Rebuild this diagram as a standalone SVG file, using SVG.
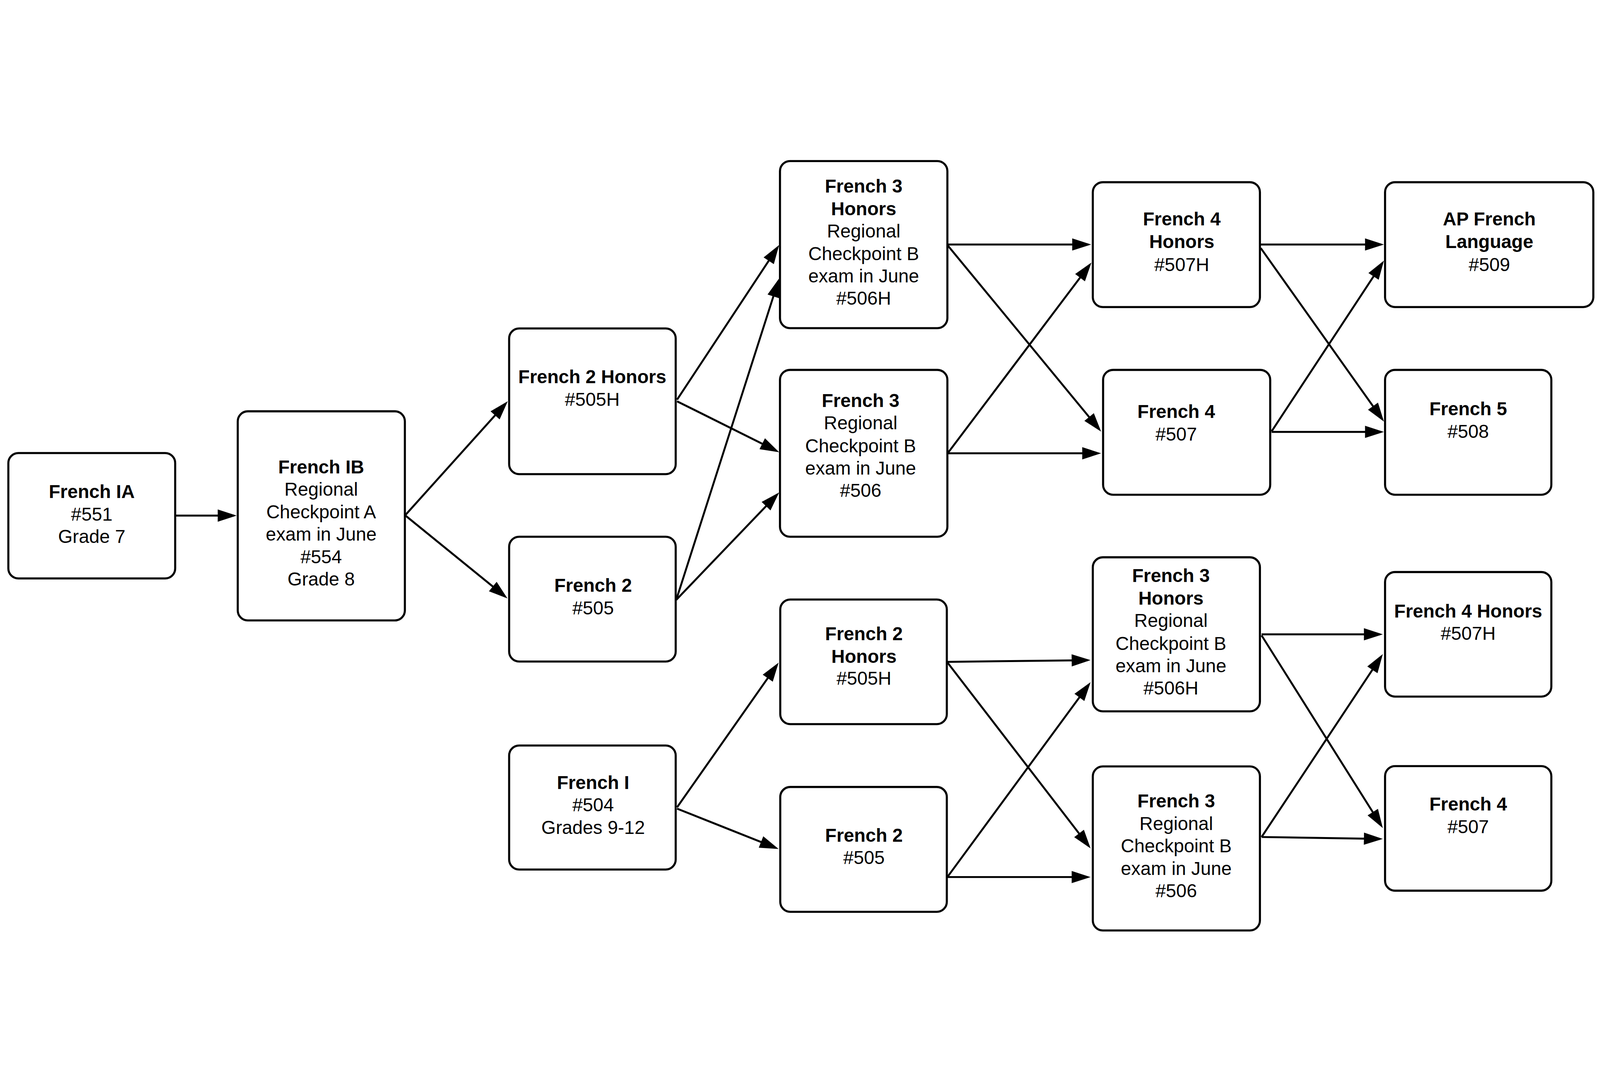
<svg xmlns="http://www.w3.org/2000/svg" width="5754" height="2788" viewBox="0 0 5754 2788">
<style>
svg{width:100vw;height:100vh}
.box{fill:#fff;stroke:#000;stroke-width:7.5}
.t{font-family:"Liberation Sans",Arial,sans-serif;font-size:67px;fill:#000;text-anchor:middle}
.b{font-weight:bold}
.c{fill:none;stroke:#000;stroke-width:7;marker-end:url(#ah)}
</style>
<defs>
<marker id="ah" markerUnits="userSpaceOnUse" markerWidth="68" markerHeight="44" refX="58" refY="22" orient="auto" overflow="visible">
<path d="M0,0 L68,22 L0,44 Z" fill="#000"/>
</marker>
</defs>
<rect width="5754" height="2788" fill="#fff"/>
<g id="connectors">
<path class="c" d="M630,1290 L841,1290"/>
<path class="c" d="M1457,1289 L1819.3,886.4"/>
<path class="c" d="M1457,1289 L1817.2,1581.7"/>
<path class="c" d="M2435,873 L2796.5,325.3"/>
<path class="c" d="M2435,879 L2793.1,1057.5"/>
<path class="c" d="M2432,1593 L2798.9,446.5"/>
<path class="c" d="M2432,1593 L2795.1,1214.2"/>
<path class="c" d="M3408,315 L3914,315"/>
<path class="c" d="M3408,318 L3953.6,980.3"/>
<path class="c" d="M3408,1066 L3919,388"/>
<path class="c" d="M3408,1066 L3950,1066"/>
<path class="c" d="M4534,315 L4967,315"/>
<path class="c" d="M4534,328 L4971.2,943.8"/>
<path class="c" d="M4573,987 L4971.5,381.4"/>
<path class="c" d="M4573,989 L4967,989"/>
<path class="c" d="M2435,2339 L2794.3,1827.2"/>
<path class="c" d="M2435,2344 L2790.7,2485.3"/>
<path class="c" d="M3407,1816 L3912,1810.1"/>
<path class="c" d="M3407,1818 L3915.9,2479.1"/>
<path class="c" d="M3407,2590 L3916.1,1897.1"/>
<path class="c" d="M3407,2590 L3912,2590"/>
<path class="c" d="M4537,1717 L4963,1717"/>
<path class="c" d="M4537,1721 L4967.7,2405.5"/>
<path class="c" d="M4537,2446 L4967.5,1796.3"/>
<path class="c" d="M4537,2446 L4963,2452.8"/>
</g>
<g id="french-ia">
<rect class="box" x="30" y="1065" width="600" height="451" rx="36"/>
<text class="t b" x="330" y="1227">French IA</text>
<text class="t" x="330" y="1309">#551</text>
<text class="t" x="330" y="1389">Grade 7</text>
</g>
<g id="french-ib">
<rect class="box" x="855" y="915" width="601" height="752" rx="36"/>
<text class="t b" x="1155" y="1138">French IB</text>
<text class="t" x="1155" y="1219">Regional</text>
<text class="t" x="1155" y="1300">Checkpoint A</text>
<text class="t" x="1155" y="1380">exam in June</text>
<text class="t" x="1155" y="1461">#554</text>
<text class="t" x="1155" y="1541">Grade 8</text>
</g>
<g id="french-2-honors-a">
<rect class="box" x="1831" y="617" width="599" height="524" rx="36"/>
<text class="t b" x="2130" y="814">French 2 Honors</text>
<text class="t" x="2130" y="895">#505H</text>
</g>
<g id="french-2-a">
<rect class="box" x="1831" y="1366" width="599" height="449" rx="36"/>
<text class="t b" x="2133" y="1564">French 2</text>
<text class="t" x="2133" y="1645">#505</text>
</g>
<g id="french-i">
<rect class="box" x="1831" y="2117" width="599" height="446" rx="36"/>
<text class="t b" x="2133" y="2273">French I</text>
<text class="t" x="2133" y="2354">#504</text>
<text class="t" x="2133" y="2435">Grades 9-12</text>
</g>
<g id="french-3-honors-a">
<rect class="box" x="2805" y="15" width="602" height="601" rx="36"/>
<text class="t b" x="3106" y="128">French 3</text>
<text class="t b" x="3106" y="210">Honors</text>
<text class="t" x="3106" y="290">Regional</text>
<text class="t" x="3106" y="371">Checkpoint B</text>
<text class="t" x="3106" y="451">exam in June</text>
<text class="t" x="3106" y="531">#506H</text>
</g>
<g id="french-3-a">
<rect class="box" x="2805" y="766" width="602" height="600" rx="36"/>
<text class="t b" x="3095" y="900">French 3</text>
<text class="t" x="3095" y="980">Regional</text>
<text class="t" x="3095" y="1062">Checkpoint B</text>
<text class="t" x="3095" y="1143">exam in June</text>
<text class="t" x="3095" y="1223">#506</text>
</g>
<g id="french-2-honors-b">
<rect class="box" x="2806" y="1592" width="599" height="448" rx="36"/>
<text class="t b" x="3107" y="1738">French 2</text>
<text class="t b" x="3107" y="1819">Honors</text>
<text class="t" x="3107" y="1899">#505H</text>
</g>
<g id="french-2-b">
<rect class="box" x="2806" y="2266" width="599" height="449" rx="36"/>
<text class="t b" x="3107" y="2463">French 2</text>
<text class="t" x="3107" y="2543">#505</text>
</g>
<g id="french-4-honors-a">
<rect class="box" x="3930" y="91" width="601" height="449" rx="36"/>
<text class="t b" x="4250" y="247">French 4</text>
<text class="t b" x="4250" y="328">Honors</text>
<text class="t" x="4250" y="410">#507H</text>
</g>
<g id="french-4-a">
<rect class="box" x="3967" y="766" width="601" height="449" rx="36"/>
<text class="t b" x="4230" y="939">French 4</text>
<text class="t" x="4230" y="1020">#507</text>
</g>
<g id="french-3-honors-b">
<rect class="box" x="3930" y="1440" width="601" height="554" rx="36"/>
<text class="t b" x="4211" y="1529">French 3</text>
<text class="t b" x="4211" y="1610">Honors</text>
<text class="t" x="4211" y="1691">Regional</text>
<text class="t" x="4211" y="1774">Checkpoint B</text>
<text class="t" x="4211" y="1854">exam in June</text>
<text class="t" x="4211" y="1934">#506H</text>
</g>
<g id="french-3-b">
<rect class="box" x="3930" y="2192" width="601" height="590" rx="36"/>
<text class="t b" x="4230" y="2340">French 3</text>
<text class="t" x="4230" y="2421">Regional</text>
<text class="t" x="4230" y="2501">Checkpoint B</text>
<text class="t" x="4230" y="2583">exam in June</text>
<text class="t" x="4230" y="2663">#506</text>
</g>
<g id="ap-french">
<rect class="box" x="4981" y="91" width="749" height="449" rx="36"/>
<text class="t b" x="5356" y="247">AP French</text>
<text class="t b" x="5356" y="328">Language</text>
<text class="t" x="5356" y="410">#509</text>
</g>
<g id="french-5">
<rect class="box" x="4981" y="766" width="598" height="449" rx="36"/>
<text class="t b" x="5280" y="929">French 5</text>
<text class="t" x="5280" y="1010">#508</text>
</g>
<g id="french-4-honors-b">
<rect class="box" x="4981" y="1493" width="598" height="448" rx="36"/>
<text class="t b" x="5280" y="1657">French 4 Honors</text>
<text class="t" x="5280" y="1737">#507H</text>
</g>
<g id="french-4-b">
<rect class="box" x="4981" y="2191" width="598" height="448" rx="36"/>
<text class="t b" x="5280" y="2351">French 4</text>
<text class="t" x="5280" y="2432">#507</text>
</g>
</svg>
